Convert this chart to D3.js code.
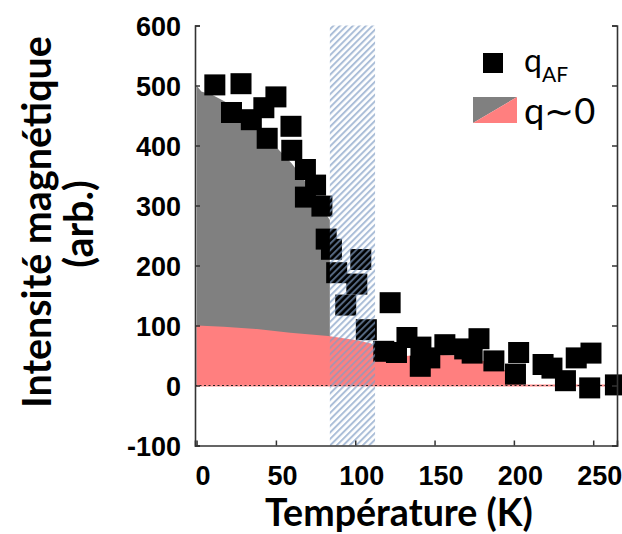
<!DOCTYPE html>
<html>
<head>
<meta charset="utf-8">
<script src="https://cdn.jsdelivr.net/npm/d3@7"></script>
<style>
  html, body { margin: 0; padding: 0; background: #fff; }
  svg { display: block; }
</style>
</head>
<body>
<svg id="chart" width="622" height="534"></svg>
<script>
// ---------- data ----------
const qafT = [11.5, 28, 22, 50, 34.5, 44.5, 42.4, 59.5, 60, 68.6, 75, 68.6, 79, 81.7, 85, 103.5, 88.3, 101, 94, 107,
              122, 118, 126, 132.6, 141, 141.4, 147, 156.5, 169, 173.7, 178, 187.4, 203, 201, 218.4, 224, 232.5, 239.3, 248.6, 247.8, 264];
const qafV = [501, 503, 455, 481, 443, 412, 463, 432, 392, 360, 334, 314, 299, 244, 227, 210, 188, 169, 134, 93,
              138, 57, 55, 80, 32, 64, 46, 68, 61, 54, 78, 41, 55, 19, 35, 29, 8, 46, 54, -4, 1];

const grayT = [0, 3, 10, 16, 20, 30, 40, 50, 60, 70, 78, 84];
const grayV = [500, 490, 484, 476, 470, 450, 425, 398, 370, 335, 300, 276];

const pinkT = [0, 17, 38, 59, 83, 100, 110, 116, 125, 135, 145, 155, 165, 175, 185, 192, 200, 206];
const pinkV = [100, 98, 94, 88, 82.5, 76, 70, 56, 47, 50, 49, 51, 50, 45, 38, 30, 14, 0];

const bandT = [84, 112.5];

const xTicks = [0, 50, 100, 150, 200, 250];
const yTicks = [-100, 0, 100, 200, 300, 400, 500, 600];

const labels = {
  x: "Température (K)",
  y1: "Intensité magnétique",
  y2: "(arb.)",
  s1: "q",
  s1sub: "AF",
  s2: "q∼0"
};

// ---------- layout ----------
const L = 195, R = 617, T = 25.5, B = 445.5;
const x = d3.scaleLinear().domain([-1, 265]).range([L, R]);
const y = d3.scaleLinear().domain([-100, 600]).range([B, T]);

const svg = d3.select("#chart");
const defs = svg.append("defs");

const pat = defs.append("pattern")
  .attr("id", "hatch")
  .attr("patternUnits", "userSpaceOnUse")
  .attr("width", 4.6).attr("height", 4.6)
  .attr("patternTransform", "rotate(45)");
pat.append("rect").attr("x", 0).attr("y", 0).attr("width", 2).attr("height", 4.6)
  .attr("fill", "#7f9cc4").attr("fill-opacity", 0.66);

const plot = svg.append("g");

// gray area
const grayData = grayT.map((t, i) => [t, grayV[i]]);
plot.append("path")
  .datum(grayData)
  .attr("fill", "#808080")
  .attr("d", d3.area().x(d => x(d[0])).y0(y(0)).y1(d => y(d[1])));

// pink area
const pinkData = pinkT.map((t, i) => [t, pinkV[i]]);
plot.append("path")
  .datum(pinkData)
  .attr("fill", "#ff7f7f")
  .attr("d", d3.area().x(d => x(d[0])).y0(y(0)).y1(d => y(d[1])));

// zero line
plot.append("line")
  .attr("x1", L).attr("x2", R).attr("y1", y(0)).attr("y2", y(0))
  .attr("stroke", "#ff8c8c").attr("stroke-width", 2);
plot.append("line")
  .attr("x1", L).attr("x2", R).attr("y1", y(0)).attr("y2", y(0))
  .attr("stroke", "#222").attr("stroke-width", 1.2).attr("stroke-dasharray", "2,2.5");

// squares
const S = 21;
plot.append("g").selectAll("rect")
  .data(qafT.map((t, i) => [t, qafV[i]]))
  .join("rect")
  .attr("x", d => x(d[0]) - S / 2)
  .attr("y", d => y(d[1]) - S / 2)
  .attr("width", S).attr("height", S)
  .attr("fill", "#000");

// hatched band
plot.append("rect")
  .attr("x", x(bandT[0])).attr("y", T)
  .attr("width", x(bandT[1]) - x(bandT[0]))
  .attr("height", B - T)
  .attr("fill", "url(#hatch)");

// ---------- axes ----------
const axisColor = "#333";
const tickFont = "'Liberation Sans', Arial, sans-serif";
const fmt = d => String(d);

const yAxis = svg.append("g").attr("transform", `translate(${L},0)`)
  .call(d3.axisLeft(y).tickValues(yTicks).tickSize(-5).tickPadding(14).tickFormat(fmt));
const xAxis = svg.append("g").attr("transform", `translate(0,${B})`)
  .call(d3.axisBottom(x).tickValues(xTicks).tickSize(-5).tickPadding(20).tickFormat(fmt));
const rAxis = svg.append("g").attr("transform", `translate(${R},0)`)
  .call(d3.axisRight(y).tickValues(yTicks).tickSize(-5).tickFormat(""));

[yAxis, xAxis, rAxis].forEach(g => {
  g.select(".domain").attr("stroke", axisColor).attr("stroke-width", 1.6);
  g.selectAll(".tick line").attr("stroke", axisColor).attr("stroke-width", 1.5);
  g.selectAll(".tick text")
    .attr("fill", "#000")
    .style("font-family", tickFont)
    .style("font-weight", "bold")
    .style("font-size", "27px");
});
xAxis.selectAll(".tick text").attr("dx", 6);
yAxis.selectAll(".tick text").attr("dy", "0.36em");

// ---------- titles ----------
const titleFont = "Lato, 'Open Sans', sans-serif";
function fit(sel, len) {
  const fs = parseFloat(sel.style("font-size"));
  const w = sel.node().getComputedTextLength();
  const nfs = fs * len / w;
  sel.style("font-size", nfs + "px");
  return nfs;
}

const xt = svg.append("text")
  .attr("x", 399).attr("y", 526)
  .attr("text-anchor", "middle")
  .style("font-family", titleFont).style("font-weight", "bold").style("font-size", "32px")
  .text(labels.x);
fit(xt, 268);

const yt1 = svg.append("text")
  .attr("transform", "translate(51,222) rotate(-90)")
  .attr("text-anchor", "middle")
  .style("font-family", titleFont).style("font-weight", "bold").style("font-size", "32px")
  .text(labels.y1);
const yfs = fit(yt1, 372);

svg.append("text")
  .attr("transform", "translate(93,224) rotate(-90)")
  .attr("text-anchor", "middle")
  .style("font-family", titleFont).style("font-weight", "bold").style("font-size", yfs + "px")
  .text(labels.y2);

// ---------- legend ----------
const leg = svg.append("g");
leg.append("rect").attr("x", 483).attr("y", 53).attr("width", 20).attr("height", 20).attr("fill", "#000");
const t1 = leg.append("text").attr("x", 524).attr("y", 72)
  .style("font-family", titleFont).style("font-size", "32px").attr("fill", "#000");
t1.append("tspan").text(labels.s1);
t1.append("tspan").attr("dy", 10).style("font-size", "21px").text(labels.s1sub);

const sw = { x0: 473, y0: 97, x1: 517, y1: 123 };
leg.append("path").attr("fill", "#808080")
  .attr("d", `M${sw.x0},${sw.y0}L${sw.x1},${sw.y0}L${sw.x0},${sw.y1}Z`);
leg.append("path").attr("fill", "#ff7f7f")
  .attr("d", `M${sw.x1},${sw.y0}L${sw.x1},${sw.y1}L${sw.x0},${sw.y1}Z`);
const t2 = leg.append("text").attr("x", 524).attr("y", 124)
  .style("font-family", titleFont).style("font-size", "32px").attr("fill", "#000")
  .text(labels.s2);
fit(t2, 72);
</script>
</body>
</html>
